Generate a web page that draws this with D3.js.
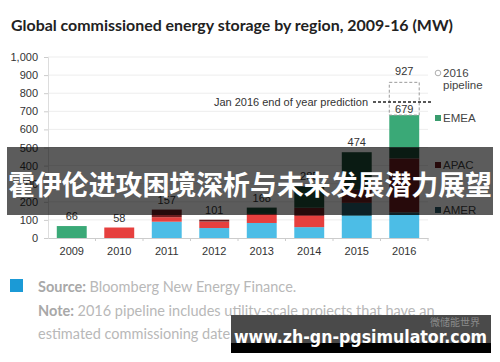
<!DOCTYPE html>
<html>
<head>
<meta charset="utf-8">
<script src="https://cdn.jsdelivr.net/npm/d3@7"></script>
<style>
  body { margin: 0; background: #fff; }
  svg { display: block; }
  .tick text { font-family: "Liberation Sans", Arial, sans-serif; }
</style>
</head>
<body>
<div id="chart-container"></div>
<script>
// ---- data ----
const years = ["2009", "2010", "2011", "2012", "2013", "2014", "2015", "2016"];
// stacked segments, bottom to top (MW)
const amerLight = [0, 0, 90, 55, 83, 60, 122, 127];
const amerDark  = [0, 0, 0, 0, 0, 0, 72, 15];
const apacLight = [0, 58, 25, 36, 50, 62, 0, 0];
const apacDark  = [0, 0, 42, 10, 0, 45, 72, 298];
const emeaDark  = [0, 0, 0, 0, 35, 118, 208, 61];
const emeaLight = [66, 0, 0, 0, 0, 0, 0, 178];
const seriesKeys = ["amerLight", "amerDark", "apacLight", "apacDark", "emeaDark", "emeaLight"];
const seriesColors = ["#4cbde6", "#245a66", "#e6403e", "#6c1d1f", "#1e4b36", "#3aa977"];
// 2016 pipeline box (top as drawn) and its label
const pipelineTop = 860;
const pipelineLabel = "927";
const predictionValue = 751;
const yTicks = [0, 100, 200, 300, 400, 500, 600, 700, 800, 900, 1000];
const legendItems = [
  { label: ["2016", "pipeline"], color: null },
  { label: ["EMEA"], color: "#3a9c6e" },
  { label: ["APAC"], color: "#6c1d1f" },
  { label: ["AMER"], color: "#2c5a66" }
];

const W = 500, H = 362;
const svg = d3.select("#chart-container")
  .append("svg")
  .attr("width", W)
  .attr("height", H);

svg.append("rect").attr("width", W).attr("height", H).attr("fill", "#fff");

// title
svg.append("text")
  .attr("x", 11)
  .attr("y", 31)
  .attr("font-family", "Lato, 'Open Sans', sans-serif")
  .attr("font-weight", "bold")
  .attr("font-size", "16px")
  .attr("fill", "#222")
  .attr("textLength", 442)
  .attr("lengthAdjust", "spacingAndGlyphs")
  .text("Global commissioned energy storage by region, 2009-16 (MW)");

// scales
const x = d3.scaleBand()
  .domain(years)
  .range([48, 428])
  .paddingInner(0.37)
  .paddingOuter(0.185);

const y = d3.scaleLinear()
  .domain([0, 1000])
  .range([238, 57]);

// gridlines
svg.append("g")
  .selectAll("line")
  .data(yTicks.slice(1))
  .enter()
  .append("line")
  .attr("x1", 48)
  .attr("x2", 428)
  .attr("y1", d => y(d))
  .attr("y2", d => y(d))
  .attr("stroke", "#ededed")
  .attr("stroke-width", 1);

// y axis
const yAxis = svg.append("g")
  .attr("transform", "translate(48,0)")
  .call(d3.axisLeft(y).tickValues(yTicks).tickFormat(d3.format(",")).tickSize(4).tickPadding(6));
yAxis.select(".domain").attr("stroke", "#ddd");
yAxis.selectAll(".tick line").attr("stroke", "#ccc");
yAxis.selectAll(".tick text").attr("font-size", "11px").attr("fill", "#333");

// x axis
const xAxis = svg.append("g")
  .attr("transform", "translate(0,238)")
  .call(d3.axisBottom(x).tickSize(0).tickPadding(9));
xAxis.select(".domain").attr("stroke", "#ccc");
xAxis.selectAll(".tick text").attr("font-size", "11px").attr("fill", "#333");
// small ticks between bands
xAxis.selectAll(".sep")
  .data(years)
  .enter()
  .append("line")
  .attr("x1", d => x(d) + x.bandwidth() + (x.step() - x.bandwidth()) / 2)
  .attr("x2", d => x(d) + x.bandwidth() + (x.step() - x.bandwidth()) / 2)
  .attr("y1", 0)
  .attr("y2", 3)
  .attr("stroke", "#ccc");

// stacked bars
const table = years.map((yr, i) => ({
  year: yr,
  amerLight: amerLight[i], amerDark: amerDark[i],
  apacLight: apacLight[i], apacDark: apacDark[i],
  emeaDark: emeaDark[i], emeaLight: emeaLight[i]
}));
const stacked = d3.stack().keys(seriesKeys)(table);

svg.append("g")
  .selectAll("g")
  .data(stacked)
  .enter()
  .append("g")
  .attr("fill", (d, i) => seriesColors[i])
  .selectAll("rect")
  .data(d => d)
  .enter()
  .append("rect")
  .attr("x", d => x(d.data.year))
  .attr("width", x.bandwidth())
  .attr("y", d => y(d[1]))
  .attr("height", d => y(d[0]) - y(d[1]));

// totals (the 2016 one sits tight inside the pipeline box)
const totals = table.map(d => d3.sum(seriesKeys, k => d[k]));
svg.append("g")
  .selectAll("text")
  .data(years)
  .enter()
  .append("text")
  .attr("x", d => x(d) + x.bandwidth() / 2)
  .attr("y", (d, i) => y(totals[i]) - (i === years.length - 1 ? 2 : 6))
  .attr("text-anchor", "middle")
  .attr("font-family", "'Liberation Sans', Arial, sans-serif")
  .attr("font-size", "11px")
  .attr("fill", "#333")
  .text((d, i) => totals[i]);

// 2016 pipeline dashed box
const last = years[years.length - 1];
svg.append("rect")
  .attr("x", x(last))
  .attr("width", x.bandwidth())
  .attr("y", y(pipelineTop))
  .attr("height", y(totals[totals.length - 1]) - y(pipelineTop))
  .attr("fill", "none")
  .attr("stroke", "#999")
  .attr("stroke-width", 1)
  .attr("stroke-dasharray", "3,2");

svg.append("text")
  .attr("x", x(last) + x.bandwidth() / 2)
  .attr("y", y(pipelineTop) - 7)
  .attr("text-anchor", "middle")
  .attr("font-family", "'Liberation Sans', Arial, sans-serif")
  .attr("font-size", "11px")
  .attr("fill", "#333")
  .text(pipelineLabel);

// prediction line
svg.append("line")
  .attr("x1", 373)
  .attr("x2", 433)
  .attr("y1", y(predictionValue))
  .attr("y2", y(predictionValue))
  .attr("stroke", "#222")
  .attr("stroke-width", 1.5)
  .attr("stroke-dasharray", "3,2");

svg.append("text")
  .attr("x", 368)
  .attr("y", y(predictionValue) + 4)
  .attr("text-anchor", "end")
  .attr("font-family", "'Liberation Sans', Arial, sans-serif")
  .attr("font-size", "11px")
  .attr("fill", "#333")
  .text("Jan 2016 end of year prediction");

// legend
const legendY = [73, 118, 165, 210];
const legend = svg.append("g").attr("class", "legend");
legendItems.forEach((item, i) => {
  const row = legend.append("g").attr("transform", `translate(435, ${legendY[i]})`);
  if (item.color) {
    row.append("rect")
      .attr("x", 0).attr("y", -3)
      .attr("width", 6).attr("height", 6)
      .attr("fill", item.color);
  } else {
    row.append("circle")
      .attr("cx", 3).attr("cy", 0).attr("r", 2.8)
      .attr("fill", "none").attr("stroke", "#999").attr("stroke-width", 0.8);
  }
  item.label.forEach((t, j) => {
    row.append("text")
      .attr("x", 8)
      .attr("y", 4 + j * 12)
      .attr("font-family", "'Liberation Sans', Arial, sans-serif")
      .attr("font-size", "11.5px")
      .attr("fill", "#444")
      .text(t);
  });
});

// overlay banner
svg.append("rect")
  .attr("x", 7).attr("y", 147)
  .attr("width", 486).attr("height", 68)
  .attr("fill", "rgba(0,0,0,0.64)");
svg.append("text")
  .attr("x", 250)
  .attr("y", 195)
  .attr("text-anchor", "middle")
  .attr("font-family", "'Noto Sans CJK SC', sans-serif")
  .attr("font-weight", "bold")
  .attr("font-size", "27px")
  .attr("fill", "#fff")
  .attr("textLength", 484)
  .attr("lengthAdjust", "spacingAndGlyphs")
  .text("霍伊伦进攻困境深析与未来发展潜力展望");

// source block
svg.append("rect")
  .attr("x", 10).attr("y", 279)
  .attr("width", 13).attr("height", 13)
  .attr("fill", "#1b9ad6");

const foot = svg.append("g")
  .attr("font-family", "Lato, 'Open Sans', sans-serif")
  .attr("font-size", "14.5px")
  .attr("fill", "#b8b8b8");
const l1 = foot.append("text").attr("x", 38).attr("y", 292);
l1.append("tspan").attr("font-weight", "bold").attr("fill", "#a8a8a8").text("Source: ");
l1.append("tspan").text("Bloomberg New Energy Finance.");
const l2 = foot.append("text").attr("x", 38).attr("y", 316);
l2.append("tspan").attr("font-weight", "bold").attr("fill", "#a8a8a8").text("Note: ");
l2.append("tspan").text("2016 pipeline includes utility-scale projects that have an");
foot.append("text").attr("x", 38).attr("y", 339)
  .text("estimated commissioning date of 2016.");

// watermark bar
svg.append("rect")
  .attr("x", 231).attr("y", 315)
  .attr("width", 260).attr("height", 30)
  .attr("fill", "#4a4a4a");
svg.append("rect")
  .attr("x", 231).attr("y", 343)
  .attr("width", 260).attr("height", 10)
  .attr("fill", "#000");
svg.append("text")
  .attr("x", 480)
  .attr("y", 326)
  .attr("text-anchor", "end")
  .attr("font-family", "'Noto Sans CJK SC', sans-serif")
  .attr("font-size", "10px")
  .attr("fill", "#8a8a8a")
  .text("微储能世界");
svg.append("text")
  .attr("x", 234)
  .attr("y", 343)
  .attr("font-family", "'DejaVu Sans', sans-serif")
  .attr("font-weight", "bold")
  .attr("font-size", "17px")
  .attr("fill", "#fff")
  .attr("textLength", 253)
  .attr("lengthAdjust", "spacingAndGlyphs")
  .text("www.zh-gn-pgsimulator.com");
</script>
</body>
</html>
